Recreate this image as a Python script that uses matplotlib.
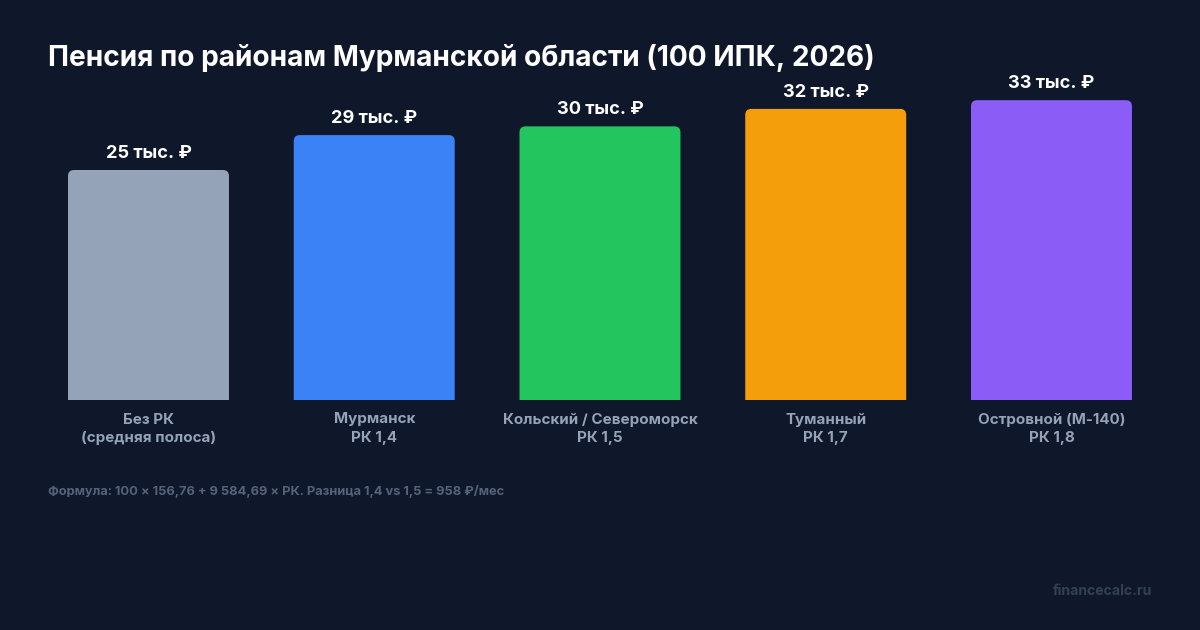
import matplotlib
matplotlib.use("Agg")
import matplotlib.pyplot as plt
from matplotlib.patches import FancyBboxPatch

plt.rcParams['font.family'] = ['Inter', 'DejaVu Sans']

# ---- data ----
categories = ["Без РК\n(средняя полоса)", "Мурманск\nРК 1,4", "Кольский / Североморск\nРК 1,5",
              "Туманный\nРК 1,7", "Островной (М-140)\nРК 1,8"]
pension = [25260.69, 29094.57, 30053.03, 31969.97, 32928.44]
value_labels = ["25 тыс. ₽", "29 тыс. ₽", "30 тыс. ₽", "32 тыс. ₽", "33 тыс. ₽"]
colors = ["#94a3b8", "#3b82f6", "#22c55e", "#f59e0b", "#8b5cf6"]

title = "Пенсия по районам Мурманской области (100 ИПК, 2026)"
footnote = "Формула: 100 × 156,76 + 9 584,69 × РК. Разница 1,4 vs 1,5 = 958 ₽/мес"
watermark = "financecalc.ru"

BG = "#0f172a"
W, H = 1200, 630
fig = plt.figure(figsize=(12, 6.3), dpi=100, facecolor=BG)

ax_left, ax_w = 35.6, 1128.75
ax_bottom, ax_h = 400, 320
ax = fig.add_axes([ax_left / W, 1 - ax_bottom / H, ax_w / W, ax_h / H])
ax.set_facecolor(BG)
ymax = ax_h * (pension[0] / 230.0)
ax.set_xlim(-0.5, len(categories) - 0.5)
ax.set_ylim(0, ymax)

x = list(range(len(categories)))
bars = ax.bar(x, pension, width=0.713, color=colors)

# rounded tops (bottom corners pushed below the axis and clipped)
px_x = len(categories) / ax_w   # data units per px in x
px_y = ymax / ax_h              # data units per px in y
r_px = 6
ext = 20 * px_y
for b, c in zip(bars, colors):
    bx, by, bw, bh = b.get_x(), b.get_y(), b.get_width(), b.get_height()
    b.set_visible(False)
    fb = FancyBboxPatch((bx, by - ext), bw, bh + ext,
                        boxstyle=f"round,pad=0,rounding_size={r_px * px_x}",
                        mutation_aspect=px_y / px_x, facecolor=c, edgecolor="none")
    ax.add_patch(fb)

for xi, v, lab in zip(x, pension, value_labels):
    ax.annotate(lab, (xi, v), xytext=(0, 8), textcoords="offset pixels",
                ha="center", va="bottom", color="white", fontsize=13.1, fontweight="bold")

ax.set_xticks(x)
ax.set_xticklabels(categories, color="#94a3b8", fontsize=10.9, fontweight="bold", linespacing=1.38)
ax.tick_params(axis="x", length=0, pad=9)
ax.set_yticks([])
for s in ax.spines.values():
    s.set_visible(False)

fig.text(48 / W, 1 - 66 / H, title, color="white", fontsize=20.2, fontweight="bold",
         ha="left", va="baseline")
fig.text(48 / W, 1 - 495 / H, footnote, color="#55627a", fontsize=9.25, fontweight="bold",
         ha="left", va="baseline")
fig.text(1152 / W, 1 - 595 / H, watermark, color="#334155", fontsize=10.1, fontweight="bold",
         ha="right", va="baseline")

fig.savefig("out.png", dpi=100, facecolor=BG)
